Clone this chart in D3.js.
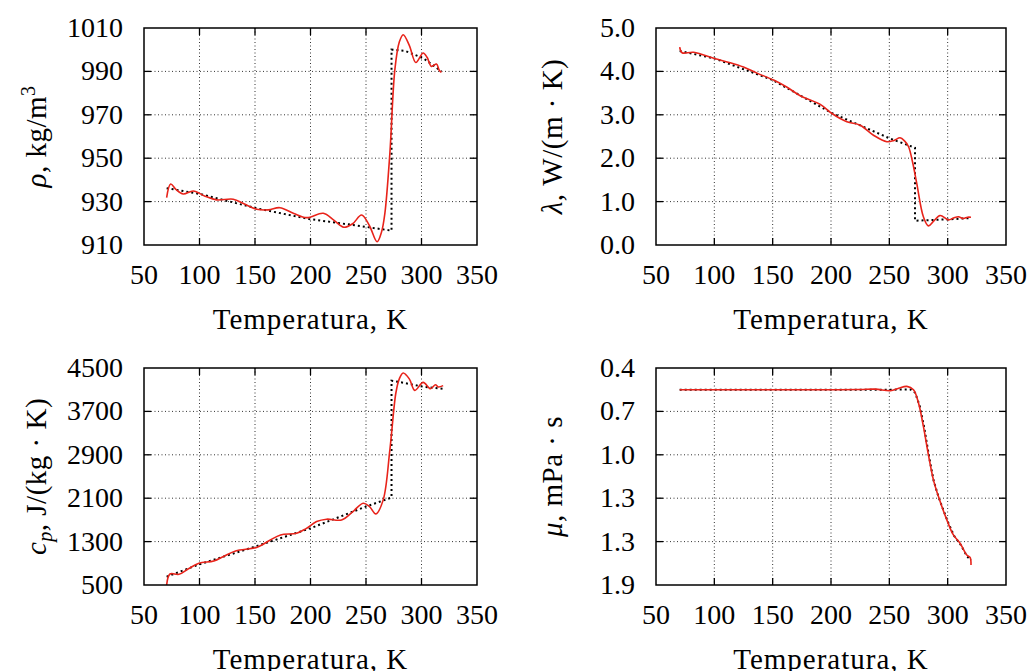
<!DOCTYPE html>
<html>
<head>
<meta charset="utf-8">
<script src="https://cdn.jsdelivr.net/npm/d3@7"></script>
<style>
  body { margin: 0; background: #fff; }
</style>
</head>
<body>
<div id="chart"></div>
<script>
// x axis ticks (shared)
var tempTicks = [50, 100, 150, 200, 250, 300, 350];
var xTitle = "Temperatura, K";

// density, kg/m3
var rhoTicks = [910, 930, 950, 970, 990, 1010];
var rhoSimT = [70.4, 74, 79, 85.4, 94.4, 105, 115.4, 130.4, 140, 151.4, 162, 172.4, 185, 196.5, 211.5, 221, 230, 238, 246, 253, 260, 264, 267, 271.5, 276, 280, 283.5, 289, 294.9, 301.5, 305, 309, 313.5, 316, 318];
var rhoSim  = [931.8, 938.1, 935.5, 933.5, 934.9, 932.5, 930.8, 931.1, 929, 926.5, 926.2, 927.2, 924.5, 922.6, 924.6, 921.5, 918.2, 919.8, 923.8, 919, 911.5, 916, 924.6, 952.3, 990.8, 1003.5, 1006.9, 1002, 994.1, 998.5, 996.5, 992.3, 993.4, 990.5, 989.5];
var rhoRefT = [70.4, 100.4, 151.4, 198.4, 241.5, 273, 273, 285, 301.5, 318];
var rhoRef  = [936.2, 933.5, 926.9, 922.0, 919.0, 916.6, 1000.0, 999.5, 996.1, 990.0];

// thermal conductivity, W/(m K)
var lamTicks = [0, 1, 2, 3, 4, 5];
var lamSimT = [70.3, 72.3, 82.3, 100.9, 113.7, 125, 136.6, 150.8, 162, 173.6, 190.8, 200.8, 213.6, 225, 236.4, 247.9, 254, 259.2, 263, 266.4, 270, 273.5, 279.2, 283.5, 288, 293.5, 300.6, 305, 309.2, 313.5, 317, 320];
var lamSim  = [4.56, 4.43, 4.44, 4.29, 4.2, 4.1, 3.96, 3.8, 3.64, 3.44, 3.24, 3.03, 2.84, 2.76, 2.53, 2.38, 2.41, 2.47, 2.4, 2.27, 1.9, 1.42, 0.65, 0.44, 0.55, 0.68, 0.58, 0.62, 0.65, 0.61, 0.64, 0.64];
var lamRefT = [70.3, 100, 150, 200, 250, 272, 272, 290, 300, 320];
var lamRef  = [4.47, 4.3, 3.8, 3.05, 2.46, 2.24, 0.56, 0.58, 0.59, 0.62];

// specific heat, J/(kg K)
var cpTicks = [500, 1300, 2100, 2900, 3700, 4500];
var cpSimT = [70.4, 73.4, 81.5, 90, 99.5, 112.9, 122, 132.5, 152, 163, 173, 187.5, 196, 205.5, 214.5, 228, 238, 247.5, 253, 258.9, 265.5, 271.5, 276.9, 280, 283.5, 289, 294, 301.5, 308.1, 312.6, 315, 319.5];
var cpSim  = [500, 703, 697, 800, 900, 943, 1030, 1128, 1196, 1320, 1423, 1454, 1540, 1669, 1713, 1700, 1850, 2008, 1950, 1811, 2069, 2992, 4039, 4300, 4408, 4300, 4087, 4235, 4118, 4190, 4150, 4175];
var cpRefT = [70.4, 100, 150, 200, 250, 273, 273, 283.5, 301.5, 319.5];
var cpRef  = [653, 882, 1207, 1546, 1946, 2112, 4266, 4229, 4155, 4118];

// viscosity, mPa s
var muTicks = [0.4, 0.7, 1.0, 1.3, 1.6, 1.9];
var muTickLabels = ["0.4", "0.7", "1.0", "1.3", "1.3", "1.9"];
var muSimT = [70.3, 100, 150, 200, 225, 238, 251, 258, 265, 270.7, 275, 279.2, 283.5, 287.8, 292.1, 299.3, 304.9, 310.6, 316.4, 319.2, 320];
var muSim  = [0.550, 0.550, 0.550, 0.550, 0.549, 0.546, 0.557, 0.540, 0.527, 0.550, 0.642, 0.804, 1.00, 1.173, 1.289, 1.450, 1.554, 1.611, 1.693, 1.709, 1.762];
var muRefT = [70.3, 100, 150, 200, 250, 262, 268, 272, 276, 280, 284, 288, 292.5, 300, 305.5, 311, 316.5, 320];
var muRef  = [0.550, 0.550, 0.550, 0.550, 0.550, 0.549, 0.548, 0.570, 0.660, 0.815, 1.01, 1.18, 1.30, 1.46, 1.56, 1.62, 1.70, 1.73];

var W = 1030, H = 671;
var svg = d3.select("#chart").append("svg").attr("width", W).attr("height", H)
  .attr("font-family", "'Liberation Serif', 'Times New Roman', Times, 'DejaVu Serif', serif");

function drawPanel(p) {
  var x = d3.scaleLinear().domain([50, 350]).range([p.left, p.right]);
  var y = d3.scaleLinear().domain(p.yDomain).range([p.bottom, p.top]);
  var g = svg.append("g");

  // grid
  g.selectAll(".vgrid").data(tempTicks.slice(1, -1)).enter().append("line")
    .attr("x1", d => x(d)).attr("x2", d => x(d))
    .attr("y1", p.top).attr("y2", p.bottom)
    .attr("stroke", "#333").attr("stroke-width", 1).attr("stroke-dasharray", "1,2.5");
  g.selectAll(".hgrid").data(p.yTicks.slice(1, -1)).enter().append("line")
    .attr("x1", p.left).attr("x2", p.right)
    .attr("y1", d => y(d)).attr("y2", d => y(d))
    .attr("stroke", "#333").attr("stroke-width", 1).attr("stroke-dasharray", "1,2.5");

  // inward ticks on all four sides
  var tl = 7;
  var xt = tempTicks.slice(1, -1);
  g.selectAll(".xtb").data(xt).enter().append("line")
    .attr("x1", d => x(d)).attr("x2", d => x(d))
    .attr("y1", p.bottom).attr("y2", p.bottom - tl).attr("stroke", "#000").attr("stroke-width", 1.3);
  g.selectAll(".xtt").data(xt).enter().append("line")
    .attr("x1", d => x(d)).attr("x2", d => x(d))
    .attr("y1", p.top).attr("y2", p.top + tl).attr("stroke", "#000").attr("stroke-width", 1.3);
  var yt = p.yTicks.slice(1, -1);
  g.selectAll(".ytl").data(yt).enter().append("line")
    .attr("x1", p.left).attr("x2", p.left + tl)
    .attr("y1", d => y(d)).attr("y2", d => y(d)).attr("stroke", "#000").attr("stroke-width", 1.3);
  g.selectAll(".ytr").data(yt).enter().append("line")
    .attr("x1", p.right).attr("x2", p.right - tl)
    .attr("y1", d => y(d)).attr("y2", d => y(d)).attr("stroke", "#000").attr("stroke-width", 1.3);

  // curves
  var refPts = p.refT.map((t, i) => [t, p.ref[i]]);
  var simPts = p.simT.map((t, i) => [t, p.sim[i]]);
  g.append("path").datum(refPts)
    .attr("d", d3.line().x(d => x(d[0])).y(d => y(d[1])))
    .attr("fill", "none").attr("stroke", "#000").attr("stroke-width", 2)
    .attr("stroke-dasharray", "2,3");
  g.append("path").datum(simPts)
    .attr("d", d3.line().curve(d3.curveCatmullRom.alpha(0.5)).x(d => x(d[0])).y(d => y(d[1])))
    .attr("fill", "none").attr("stroke", "#e8231a").attr("stroke-width", 1.6);

  // frame
  g.append("rect").attr("x", p.left).attr("y", p.top)
    .attr("width", p.right - p.left).attr("height", p.bottom - p.top)
    .attr("fill", "none").attr("stroke", "#000").attr("stroke-width", 1.5);

  // tick labels
  g.selectAll(".xl").data(tempTicks).enter().append("text")
    .attr("x", d => x(d)).attr("y", p.bottom + 39)
    .attr("text-anchor", "middle").attr("font-size", 28)
    .text(d => d);
  g.selectAll(".yl").data(p.yTicks).enter().append("text")
    .attr("x", p.left - 21).attr("y", d => y(d) + 9)
    .attr("text-anchor", "end").attr("font-size", 28)
    .text((d, i) => p.yLabels[i]);

  // axis titles
  g.append("text")
    .attr("x", (p.left + p.right) / 2).attr("y", p.bottom + 84)
    .attr("text-anchor", "middle").attr("font-size", 29).attr("letter-spacing", 1)
    .text(xTitle);
  var yt2 = g.append("text")
    .attr("transform", "translate(" + p.yTitleX + "," + ((p.top + p.bottom) / 2) + ") rotate(-90)")
    .attr("text-anchor", "middle").attr("font-size", 29).attr("letter-spacing", 0.5);
  p.yTitle(yt2);
}

drawPanel({
  left: 144, right: 477, top: 28, bottom: 245, yTitleX: 46,
  yDomain: [910, 1010], yTicks: rhoTicks, yLabels: rhoTicks.map(String),
  simT: rhoSimT, sim: rhoSim, refT: rhoRefT, ref: rhoRef,
  yTitle: function (t) {
    t.append("tspan").attr("font-style", "italic").text("ρ");
    t.append("tspan").text(", kg/m");
    t.append("tspan").attr("font-size", 20).attr("dy", -11).text("3");
  }
});
drawPanel({
  left: 656, right: 1006, top: 28, bottom: 245, yTitleX: 562,
  yDomain: [0, 5], yTicks: lamTicks, yLabels: lamTicks.map(d => d.toFixed(1)),
  simT: lamSimT, sim: lamSim, refT: lamRefT, ref: lamRef,
  yTitle: function (t) {
    t.append("tspan").attr("font-style", "italic").text("λ");
    t.append("tspan").text(", W/(m · K)");
  }
});
drawPanel({
  left: 144, right: 477, top: 368, bottom: 585, yTitleX: 46,
  yDomain: [500, 4500], yTicks: cpTicks, yLabels: cpTicks.map(String),
  simT: cpSimT, sim: cpSim, refT: cpRefT, ref: cpRef,
  yTitle: function (t) {
    t.append("tspan").attr("font-style", "italic").text("c");
    t.append("tspan").attr("font-style", "italic").attr("font-size", 20).attr("dy", 6).text("p");
    t.append("tspan").attr("dy", -6).text(", J/(kg · K)");
  }
});
drawPanel({
  left: 656, right: 1006, top: 368, bottom: 585, yTitleX: 562,
  yDomain: [1.9, 0.4], yTicks: muTicks, yLabels: muTickLabels,
  simT: muSimT, sim: muSim, refT: muRefT, ref: muRef,
  yTitle: function (t) {
    t.append("tspan").attr("font-style", "italic").text("μ");
    t.append("tspan").text(", mPa · s");
  }
});
</script>
</body>
</html>
